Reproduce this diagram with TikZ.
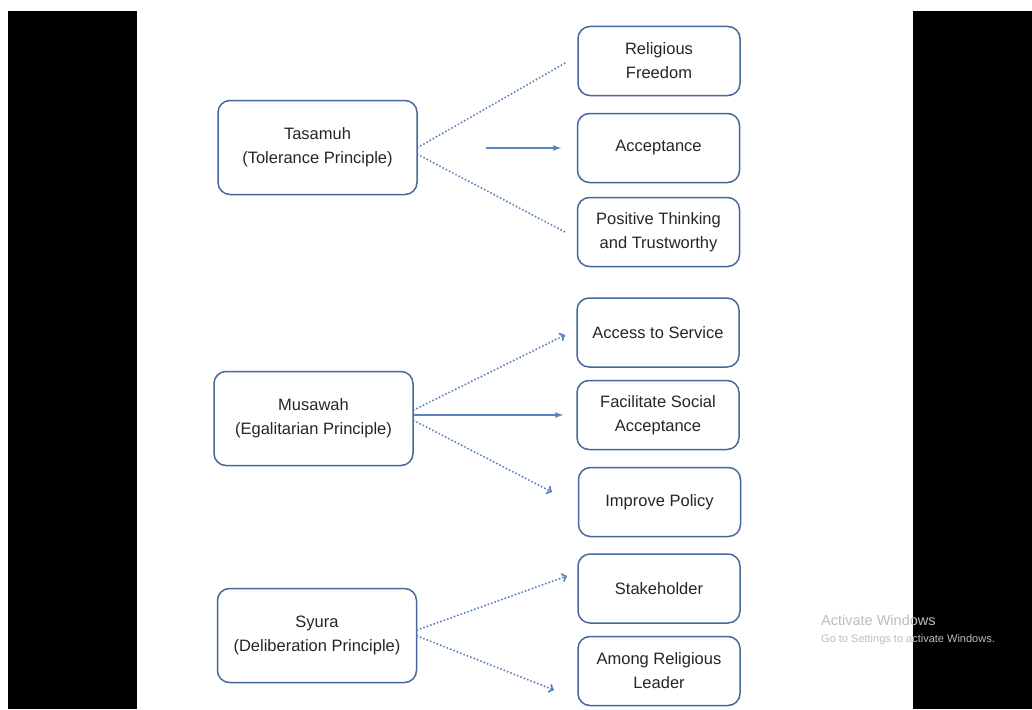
\documentclass[tikz,border=0pt]{standalone}
\usepackage{fontspec}
\setmainfont{Liberation Sans}
\usetikzlibrary{arrows}
\definecolor{boxblue}{HTML}{46689A}
\definecolor{linkblue}{HTML}{5A82BE}
\definecolor{markgray}{HTML}{BDBDBD}

\begin{document}
\begin{tikzpicture}[x=1pt,y=-1pt,
  principle/.style={draw=boxblue,line width=1.5pt,rounded corners=12pt,
    minimum width=199pt,minimum height=94pt,inner sep=0pt,align=center,
    text=black!85,font=\fontsize{16.5}{24}\selectfont},
  outcome/.style={principle,minimum width=162pt,minimum height=69pt},
  dotlink/.style={linkblue,line width=2.2pt,line cap=round,dash pattern=on 0pt off 3.6pt},
  solidlink/.style={linkblue,line width=1.6pt,-latex}]
  \fill[white] (0,0) rectangle (1032,709);
  \useasboundingbox (0,0) rectangle (1032,709);
  \fill[black] (8,11) rectangle (137,709);
  \fill[black] (913,11) rectangle (1032,709);
  % principles
  \node[principle] (tasamuh) at (317.5,147.5) {Tasamuh\\(Tolerance Principle)};
  \node[principle] (musawah) at (313.5,418.5) {Musawah\\(Egalitarian Principle)};
  \node[principle] (syura)   at (317,635.5)   {Syura\\(Deliberation Principle)};
  % outcomes
  \node[outcome] (freedom)     at (659,61)    {Religious\\Freedom};
  \node[outcome] (acceptance)  at (658.5,148) {Acceptance};
  \node[outcome] (positive)    at (658.5,232) {Positive Thinking\\and Trustworthy};
  \node[outcome] (service)     at (658,332.5) {Access to Service};
  \node[outcome] (facilitate)  at (658,415)   {Facilitate Social\\Acceptance};
  \node[outcome] (policy)      at (659.5,502) {Improve Policy};
  \node[outcome] (stakeholder) at (659,588.5) {Stakeholder};
  \node[outcome] (leader)      at (659,671)   {Among Religious\\Leader};
  % link ends
  \coordinate (t1) at (567,62);
  \coordinate (t0) at (486,148);
  \coordinate (t2) at (561,148);
  \coordinate (t3) at (565,232);
  \coordinate (m1) at (565,335);
  \coordinate (m2) at (563,415);
  \coordinate (m3) at (552,492);
  \coordinate (s1) at (567,576);
  \coordinate (s2) at (554,690);
  \draw[dotlink] ([yshift=0pt]tasamuh.east) -- (t1);
  \draw[solidlink] (t0) -- (t2);
  \draw[dotlink] ([yshift=-7pt]tasamuh.east) -- (t3);
  \draw[dotlink,-to] ([yshift=8.5pt]musawah.east) -- (m1);
  \draw[solidlink] ([yshift=3.5pt]musawah.east) -- (m2);
  \draw[dotlink,-to] ([yshift=-2pt]musawah.east) -- (m3);
  \draw[dotlink,-to] ([yshift=5.5pt]syura.east) -- (s1);
  \draw[dotlink,-to] ([yshift=-0.5pt]syura.east) -- (s2);
  % screen watermark
  \node[anchor=west,text=markgray,font=\fontsize{14.5}{16}\selectfont,inner sep=0pt] (mark1) at (821,620) {Activate Windows};
  \node[anchor=west,text=markgray,font=\fontsize{11}{12}\selectfont,inner sep=0pt] (mark2) at (821,640) {Go to Settings to activate Windows.};
\end{tikzpicture}
\end{document}
